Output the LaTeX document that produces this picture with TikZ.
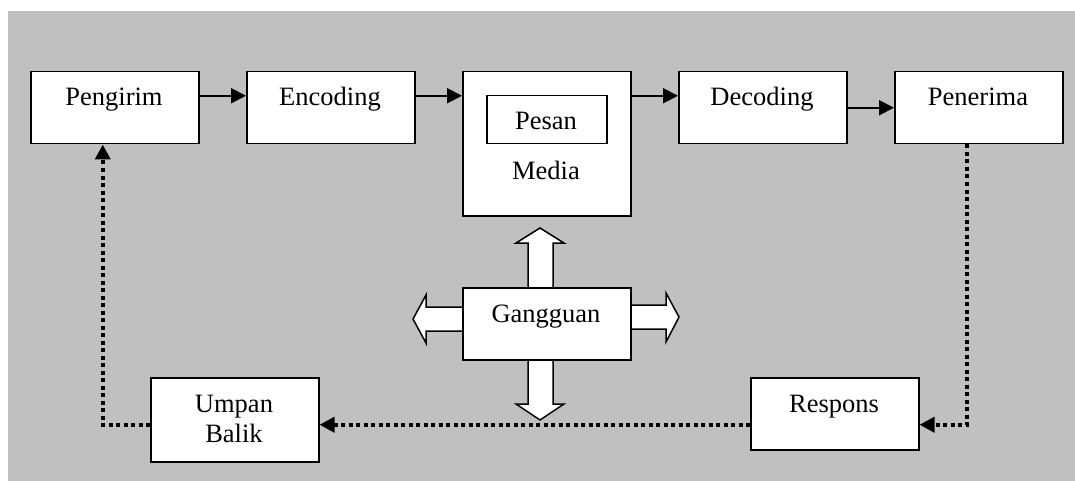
\documentclass[tikz,border=0pt]{standalone}
\usepackage{fontspec}
\setmainfont{Liberation Serif}
\usetikzlibrary{arrows.meta}
\definecolor{bg}{HTML}{C0C0C0}
\tikzset{
  x=1pt, y=-1pt,
  box/.style={draw=black, fill=white, line width=1.5pt, inner sep=0pt, anchor=north west},
  txt/.style={anchor=base, inner sep=0pt, font=\fontsize{26.5}{30}\selectfont},
  arr/.style={line width=2pt, -{Triangle[length=15pt,width=15pt]}},
  dotline/.style={line width=3.8pt, dash pattern=on 4pt off 3.5pt, -{Triangle[length=15pt,width=15pt]}},
  dotplain/.style={line width=3.8pt, dash pattern=on 4pt off 3.5pt},
  block/.style={draw=black, fill=white, line width=1.5pt, line join=miter}
}
\begin{document}
\begin{tikzpicture}
\useasboundingbox (0,0) rectangle (1075,481);
\fill[bg] (8,11) rectangle (1075,481);

% block arrows (behind Gangguan box)
\draw[block] (528,287) -- (528,243) -- (516,243) -- (540,228) -- (564,243) -- (553,243) -- (553,287);
\draw[block] (528,359) -- (528,404) -- (516,404) -- (540,420) -- (564,404) -- (553,404) -- (553,359);
\draw[block] (462,307) -- (426,307) -- (426,295) -- (413,319) -- (426,343) -- (426,331) -- (462,331);
\draw[block] (630,305) -- (666,305) -- (666,293) -- (679,317) -- (666,342) -- (666,329) -- (630,329);

% boxes
\node[box, minimum width=168pt, minimum height=72pt] (peng) at (30,71) {};
\node[box, minimum width=168pt, minimum height=72pt] (enc) at (246,71) {};
\node[box, minimum width=168pt, minimum height=144pt] (med) at (462,71) {};
\node[box, minimum width=120pt, minimum height=48pt] (pes) at (486,95) {};
\node[box, minimum width=168pt, minimum height=72pt] (dec) at (678,71) {};
\node[box, minimum width=168pt, minimum height=72pt] (pen) at (894,71) {};
\node[box, minimum width=168pt, minimum height=72pt] (gang) at (462,287) {};
\node[box, minimum width=168pt, minimum height=84pt] (ump) at (150,377) {};
\node[box, minimum width=168pt, minimum height=72pt] (resp) at (750,377) {};

% texts
\node[txt] (tpeng) at (114,106) {Pengirim};
\node[txt] (tenc) at (330,106) {Encoding};
\node[txt] (tpes) at (546,130) {Pesan};
\node[txt] (tmed) at (546,179) {Media};
\node[txt] (tdec) at (762,106) {Decoding};
\node[txt] (tpen) at (978,106) {Penerima};
\node[txt] (tgang) at (546,322) {Gangguan};
\node[txt] (tump1) at (234,412) {Umpan};
\node[txt] (tump2) at (234,442) {Balik};
\node[txt] (tresp) at (834,412) {Respons};

% solid connectors
\coordinate (a1) at ([yshift=12pt]peng.east);
\coordinate (a2) at ([yshift=12pt]enc.east);
\coordinate (a3) at ([yshift=12pt]dec.west);
\draw[arr] (a1) -- (a1 -| enc.west);
\draw[arr] (a2) -- (a2 -| med.west);
\draw[arr] (a3 -| med.east) -- (a3);
\draw[arr] (dec.east) -- (pen.west);

% dotted feedback loop
\coordinate (p1) at ([xshift=-12pt]pen.south);
\coordinate (r1) at ([yshift=-11pt]resp.east);
\coordinate (r2) at ([yshift=-11pt]resp.west);
\coordinate (u1) at ([yshift=-5pt]ump.west);
\coordinate (g1) at ([xshift=-12pt]peng.south);
\draw[dotline] (p1) |- (r1);
\draw[dotline] (r2) -- (r2 -| ump.east);
\draw[dotline] (u1) -| (g1);
\end{tikzpicture}
\end{document}
